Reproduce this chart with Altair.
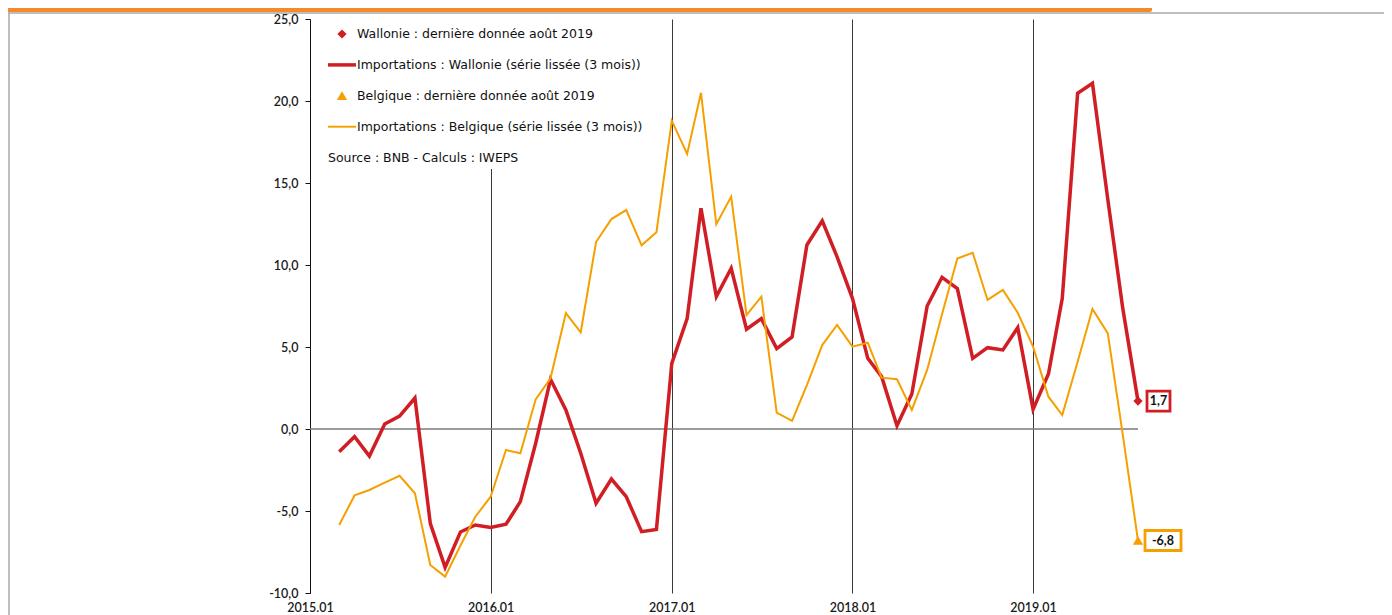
import altair as alt
import pandas as pd

# ---------------- data ----------------
months = [
    "2015-03-01", "2015-04-01", "2015-05-01", "2015-06-01", "2015-07-01", "2015-08-01",
    "2015-09-01", "2015-10-01", "2015-11-01", "2015-12-01", "2016-01-01", "2016-02-01",
    "2016-03-01", "2016-04-01", "2016-05-01", "2016-06-01", "2016-07-01", "2016-08-01",
    "2016-09-01", "2016-10-01", "2016-11-01", "2016-12-01", "2017-01-01", "2017-02-01",
    "2017-03-01", "2017-04-01", "2017-05-01", "2017-06-01", "2017-07-01", "2017-08-01",
    "2017-09-01", "2017-10-01", "2017-11-01", "2017-12-01", "2018-01-01", "2018-02-01",
    "2018-03-01", "2018-04-01", "2018-05-01", "2018-06-01", "2018-07-01", "2018-08-01",
    "2018-09-01", "2018-10-01", "2018-11-01", "2018-12-01", "2019-01-01", "2019-02-01",
    "2019-03-01", "2019-04-01", "2019-05-01", "2019-06-01", "2019-07-01", "2019-08-01",
]
wallonie = [
    -1.38, -0.47, -1.65, 0.30, 0.79, 1.89,
    -5.75, -8.44, -6.28, -5.85, -6.00, -5.81,
    -4.43, -0.87, 3.03, 1.16, -1.48, -4.53,
    -3.05, -4.13, -6.26, -6.12, 4.00, 6.73,
    13.46, 8.07, 9.80, 6.08, 6.73, 4.90,
    5.61, 11.22, 12.70, 10.50, 7.97, 4.31,
    3.19, 0.20, 2.13, 7.50, 9.25, 8.56,
    4.31, 4.96, 4.82, 6.18, 1.20, 3.35,
    7.97, 20.47, 21.08, 14.00, 7.40, 1.70,
]
belgique = [
    -5.85, -4.05, -3.72, -3.27, -2.85, -3.92,
    -8.29, -9.00, -7.10, -5.35, -4.13, -1.28,
    -1.48, 1.81, 3.09, 7.07, 5.90, 11.40,
    12.80, 13.35, 11.20, 12.00, 18.80, 16.77,
    20.50, 12.48, 14.17, 6.95, 8.07, 1.00,
    0.49, 2.68, 5.12, 6.34, 5.02, 5.26,
    3.13, 3.03, 1.16, 3.60, 7.00, 10.40,
    10.75, 7.87, 8.48, 7.09, 5.02, 1.97,
    0.85, 4.10, 7.32, 5.83, -0.30, -6.80,
]
year_ticks = [2015, 2016, 2017, 2018, 2019]
y_ticks = [-10, -5, 0, 5, 10, 15, 20, 25]

W_LAST = "Wallonie : dernière donnée août 2019"
W_LINE = "Importations : Wallonie (série lissée (3 mois))"
B_LAST = "Belgique : dernière donnée août 2019"
B_LINE = "Importations : Belgique (série lissée (3 mois))"
legend_entries = [W_LAST, W_LINE, B_LAST, B_LINE]
SOURCE = "Source : BNB - Calculs : IWEPS"

RED = "#D01E24"
ORANGE = "#F5A000"
HEADER = "#F58A2A"
FONT = "Lato"
LFONT = "DejaVu Sans"

# symbol shapes (unit box, drawn at symbol size 784 -> 28 px box)
DIAMOND = "M-0.33,0L0,-0.33L0.33,0L0,0.33Z"
TRIANGLE = "M0,-0.33L0.37,0.3L-0.37,0.3Z"
RED_BAR = "M-1,-0.125L1,-0.125L1,0.125L-1,0.125Z"
ORANGE_BAR = "M-1,-0.07L1,-0.07L1,0.07L-1,0.07Z"


def fr(v):
    return f"{v:.1f}".replace(".", ",")


df = pd.DataFrame({"date": months, "Wallonie": wallonie, "Belgique": belgique})
last = pd.DataFrame({
    "date": [months[-1], months[-1]],
    "valeur": [wallonie[-1], belgique[-1]],
    "entry": [W_LAST, B_LAST],
    "label": [fr(wallonie[-1]), fr(belgique[-1])],
})
one = pd.DataFrame({"a": [0]})

x_scale = alt.Scale(
    type="utc",
    domain=[alt.DateTime(year=2015, month=1, date=1, utc=True),
            alt.DateTime(year=2019, month=8, date=1, utc=True)],
)
y_scale = alt.Scale(domain=[-10, 25], nice=False, zero=False)

x_enc = alt.X(
    "date:T", scale=x_scale, title=None,
    axis=alt.Axis(
        values=[alt.DateTime(year=y, month=1, date=1, utc=True) for y in year_ticks],
        labelExpr="utcFormat(datum.value, '%Y.%m')",
        domain=False, ticks=False, grid=True, gridColor="#3a3a3a", gridWidth=1,
        labelFlush=False, labelPadding=8, labelFont=FONT, labelFontSize=12.5,
        labelFontWeight=600, labelColor="#1a1a1a",
    ),
)
y_axis = alt.Axis(
    values=y_ticks,
    labelExpr="(datum.value < 0 ? '-' : '') + replace(format(abs(datum.value), '.1f'), '.', ',')",
    grid=False, domainColor="#111111", domainWidth=1, tickColor="#111111", tickSize=5,
    labelPadding=7, labelFont=FONT, labelFontSize=12.5, labelFontWeight=600,
    labelColor="#1a1a1a", title=None,
)

# decorations (page header bar and frame)
header = alt.Chart(one).mark_rect(color=HEADER, cornerRadiusBottomRight=4).encode(
    x=alt.value(-302), x2=alt.value(842), y=alt.value(-11), y2=alt.value(-7))
frame_top = alt.Chart(one).mark_rule(color="#A8A8A8", strokeWidth=1.5).encode(
    x=alt.value(-302), x2=alt.value(1074), y=alt.value(-6))
frame_left = alt.Chart(one).mark_rule(color="#A8A8A8", strokeWidth=1.5).encode(
    x=alt.value(-301), y=alt.value(-6), y2=alt.value(600))

zero_line = alt.Chart(one).mark_rule(color="#7a7a7a", strokeWidth=1.5).encode(
    y=alt.datum(0, scale=y_scale, axis=y_axis))

base = alt.Chart(df)
red_line = base.mark_line(color=RED, strokeWidth=3.5, strokeJoin="miter").encode(
    x=x_enc, y=alt.Y("Wallonie:Q", scale=y_scale, axis=y_axis))
orange_line = base.mark_line(color=ORANGE, strokeWidth=2, strokeJoin="miter").encode(
    x=x_enc, y=alt.Y("Belgique:Q", scale=y_scale, axis=y_axis))

leg = alt.Legend(title=SOURCE)
points = alt.Chart(last).mark_point(filled=True, opacity=1, size=784, strokeWidth=0).encode(
    x=x_enc,
    y=alt.Y("valeur:Q", scale=y_scale, axis=y_axis),
    color=alt.Color("entry:N", scale=alt.Scale(domain=legend_entries, range=[RED, RED, ORANGE, ORANGE]), legend=leg),
    shape=alt.Shape("entry:N", scale=alt.Scale(domain=legend_entries, range=[DIAMOND, RED_BAR, TRIANGLE, ORANGE_BAR]), legend=leg),
)


def value_box(entry, color, box_w, off):
    sub = alt.Chart(last).transform_filter(alt.datum.entry == entry)
    box = sub.mark_rect(width=box_w, height=20, fill="white", stroke=color, strokeWidth=2.8,
                        xOffset=off).encode(
        x=x_enc, y=alt.Y("valeur:Q", scale=y_scale, axis=y_axis))
    txt = sub.mark_text(dx=off, font=FONT, fontSize=12.5, fontWeight=700, color="#111111",
                        align="center", baseline="middle").encode(
        x=x_enc, y=alt.Y("valeur:Q", scale=y_scale, axis=y_axis), text="label:N")
    return box + txt


chart = alt.layer(
    zero_line, red_line, orange_line, points,
    value_box(W_LAST, RED, 23, 20.5),
    value_box(B_LAST, ORANGE, 36, 25),
    header, frame_top, frame_left,
).properties(
    width=828, height=574,
    padding={"left": 302, "top": 11, "right": 246, "bottom": 22},
    autosize=alt.AutoSizeParams(type="none"),
).configure_view(stroke=None).configure_legend(
    orient="none", legendX=14, legendY=-3, fillColor="white", padding=4,
    symbolSize=784, symbolStrokeWidth=0, gridAlign="all",
    labelFont=LFONT, labelFontSize=12.5, labelFontWeight="normal", labelColor="#111111",
    labelOffset=1, rowPadding=9.9, labelLimit=400,
    titleOrient="bottom", titleAnchor="start", titleFont=LFONT, titleFontSize=12.5,
    titleFontWeight="normal", titleColor="#111111", titlePadding=19, titleLimit=400,
)

chart.save("out.html", embed_options={"renderer": "svg", "actions": False})
